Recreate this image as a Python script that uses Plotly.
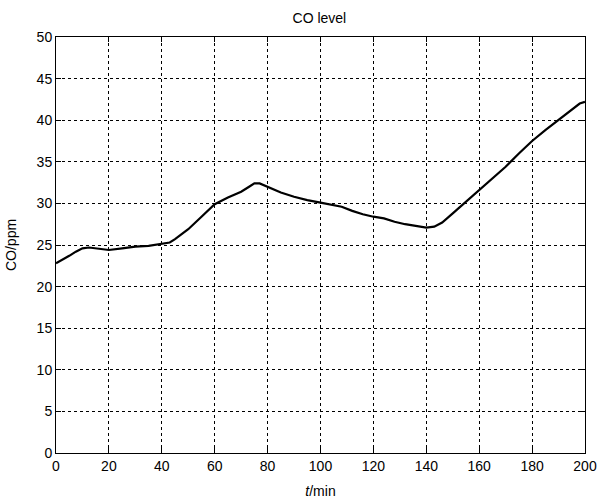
import plotly.graph_objects as go

t_min = [0, 2.5, 5, 7.5, 10, 12.5, 15, 20, 25, 30, 35, 40, 43, 45, 50, 55, 60, 65, 70, 73, 75, 77,
         80, 85, 90, 95, 100, 105, 108, 112, 116, 120, 124, 128, 132, 136, 140, 143, 146, 150,
         155, 160, 165, 170, 175, 180, 185, 190, 195, 198, 200]
co_ppm = [22.8, 23.2, 23.7, 24.2, 24.6, 24.7, 24.6, 24.4, 24.6, 24.8, 24.9, 25.1, 25.3, 25.7, 26.9,
          28.4, 29.9, 30.7, 31.4, 32.0, 32.4, 32.4, 32.0, 31.3, 30.8, 30.4, 30.1, 29.8, 29.6, 29.1,
          28.7, 28.4, 28.2, 27.8, 27.5, 27.3, 27.1, 27.2, 27.7, 28.8, 30.2, 31.6, 32.9, 34.4, 36.0,
          37.5, 38.8, 40.0, 41.2, 42.0, 42.2]

x_ticks = [0, 20, 40, 60, 80, 100, 120, 140, 160, 180, 200]
y_ticks = [0, 5, 10, 15, 20, 25, 30, 35, 40, 45, 50]

FONT = "Liberation Sans, Arial"

fig = go.Figure()
fig.add_trace(go.Scatter(x=t_min, y=co_ppm, mode="lines",
                         line=dict(color="black", width=2.2), showlegend=False))

axis_common = dict(
    showline=True, linecolor="black", linewidth=1, mirror="ticks",
    ticks="inside", ticklen=5, tickcolor="black",
    showgrid=True, gridcolor="black", gridwidth=1, griddash="3px,3px",
    zeroline=False, automargin=False, ticklabeloverflow="allow",
    tickfont=dict(family=FONT, size=14, color="black"),
)

fig.update_xaxes(range=[0, 200], tickvals=x_ticks, **axis_common,
                 title=dict(text="<i>t</i>/min", font=dict(family=FONT, size=14, color="black"),
                            standoff=14))
fig.update_yaxes(range=[0, 50], tickvals=y_ticks, **axis_common,
                 title=dict(text="CO/ppm", font=dict(family=FONT, size=14, color="black"),
                            standoff=16))

fig.update_layout(
    width=597, height=499, autosize=False,
    margin=dict(l=56, r=12, t=37, b=46),
    paper_bgcolor="white", plot_bgcolor="white",
    title=dict(text="CO level", x=0.535, xanchor="center", y=0.963, yanchor="middle",
               font=dict(family=FONT, size=14, color="black")),
)

# remove the default 8px page margin so the figure fills the window exactly
fig.write_html("out.html",
               config={"displayModeBar": False},
               post_script="document.body.style.margin='0';document.body.style.overflow='hidden';")
